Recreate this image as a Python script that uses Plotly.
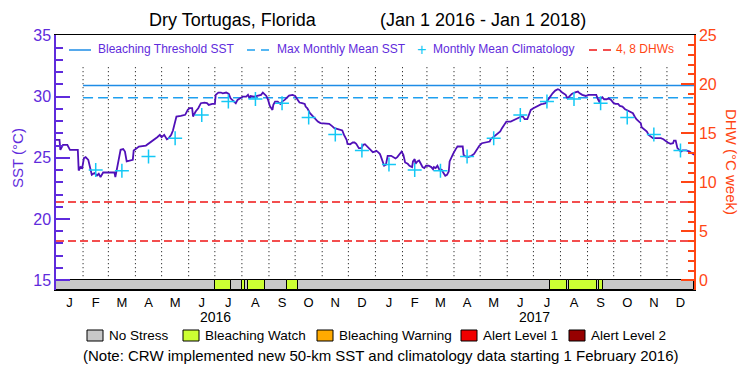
import pandas as pd
import plotly.graph_objects as go

# ---------------- data ----------------
title_left = "Dry Tortugas, Florida"
title_right = "(Jan 1 2016 - Jan 1 2018)"
start_date = "2016-01-01"
end_date = "2018-01-01"

# daily SST (day offset from 2016-01-01, degC)
sst_day = [0, 4, 5, 8, 13, 16, 25, 26, 28, 30, 32, 34, 37, 39, 41, 44, 47, 49, 51, 54, 61, 67, 68, 70, 72, 74,
           77, 79, 81, 86, 88, 89, 92, 95, 103, 106, 110, 113, 116, 119, 121, 124, 127, 129, 132, 134, 136, 138,
           143, 148, 151, 153, 156, 157, 160, 163, 166, 170, 173, 175, 179, 182, 183, 186, 189,
           191, 195, 198, 200, 204, 206, 208, 211, 214, 218, 220, 222, 223, 227, 231, 235, 237, 239, 241, 243,
           245, 248, 249, 251, 254, 257, 259, 262, 264, 267, 271, 274, 277, 279, 282, 285, 286, 288, 291, 294,
           297, 300, 303, 309, 313, 316, 319, 323, 328, 330, 333, 334, 337, 340, 342, 344, 347, 350, 352, 354,
           357, 360, 363, 365, 367, 369, 371, 372,
           374, 376, 378, 380, 384, 387, 389, 391, 394, 396, 398, 400, 403, 405, 408, 409, 411, 412, 414, 416,
           418, 420, 422, 424, 427, 430, 432, 433, 435, 437, 439, 442, 444, 446, 448, 450, 451, 454, 455, 458,
           460, 464, 466, 467, 469, 472, 476, 479, 482, 485, 488, 493, 497, 498, 502, 506, 509, 511, 514, 516,
           521, 525, 529, 533, 535, 537, 540, 542, 544, 547, 550, 554, 556,
           558, 561, 563, 566, 569, 572, 575, 577, 580, 584, 586, 588, 591, 594, 598, 600, 603, 607, 610, 615,
           619, 621, 623, 624, 626, 628, 631, 633, 636, 639, 641, 644, 646, 649, 652, 655, 658, 661, 663, 665,
           668, 670, 671, 674, 677, 679, 682, 684, 689, 693, 696, 698, 701, 704, 707, 708, 710, 712, 714, 716,
           718, 722, 726, 728, 729, 731]
sst_val = [26.47, 26.47, 25.65, 26.06, 26.06, 25.65, 25.65, 23.96, 24.24, 24.16, 24.97, 25.05, 24.83, 24.16,
           23.61, 23.75, 23.56, 23.69, 23.42, 23.80, 23.80, 23.80, 23.42, 24.16, 24.83, 25.65,
           25.71, 25.51, 24.70, 24.78, 24.83, 25.60, 25.79, 25.92, 26.00, 26.14, 26.33, 26.47, 26.68, 26.87,
           26.68, 26.87, 26.52, 26.60, 26.87, 27.23, 27.83, 28.37,
           28.42, 28.51, 28.91, 29.05, 29.05, 28.37, 28.78, 29.05, 29.46, 29.51, 29.46, 29.32, 29.40, 29.40,
           30.14, 30.33, 30.33,
           30.27, 30.33, 30.22, 29.86, 29.59, 29.46, 29.73, 29.86, 30.00, 30.00, 30.14, 29.86, 30.05, 30.00,
           30.05, 30.14, 30.33, 30.22, 30.05, 29.73,
           29.24, 28.91, 29.32, 29.59, 29.59, 29.40, 29.59, 29.73, 29.86, 30.08, 30.14, 30.05, 29.73, 29.51,
           29.46, 29.40, 29.18, 29.05, 28.64, 28.42,
           28.23, 27.96, 27.83, 27.83, 27.77, 27.61, 27.42, 27.34, 27.23, 26.87, 26.47, 26.14, 26.11, 26.25,
           26.25, 26.14, 25.79, 25.79, 26.06, 26.11,
           25.92, 25.65, 25.46, 25.51, 25.57, 25.46, 25.32, 25.16,
           24.83, 24.35, 24.43, 25.16, 25.16, 25.05, 24.94, 25.05, 25.32, 25.51, 25.24, 24.62, 24.51, 24.35,
           24.24, 24.70, 24.89, 24.51, 24.70, 24.78,
           24.51, 24.24, 24.16, 24.35, 24.35, 24.24, 24.07, 24.24, 24.16, 24.35, 24.07, 24.02, 23.75, 23.53,
           23.61, 23.88, 24.70, 25.24, 25.32, 25.71,
           25.92, 25.92, 25.92, 25.24, 25.11, 25.05, 25.16, 25.32, 25.65, 25.98, 26.19, 26.25, 26.33, 26.52,
           26.74, 27.01, 27.15, 27.42, 27.69, 27.96,
           27.96, 28.10, 28.23, 28.37, 28.37, 28.15, 28.15, 28.51, 28.91, 29.05, 29.18, 29.32, 29.38,
           29.40, 29.46, 29.67, 30.00, 30.27, 30.49, 30.60, 30.54, 30.33, 30.14, 29.86, 30.00, 30.22, 30.33,
           30.41, 30.27, 30.14, 30.05, 30.14, 30.14,
           30.14, 29.78, 29.51, 29.86, 29.95, 29.78, 29.78, 29.86, 29.73, 29.46, 29.40, 29.40, 29.24, 29.18,
           28.97, 28.86, 28.78, 28.64, 28.37, 28.15,
           27.96, 27.83, 27.50, 27.34, 27.15, 26.87, 26.74, 26.60, 26.60, 26.60, 26.52, 26.38, 26.25, 26.14,
           26.19, 26.41, 26.41, 25.79, 25.65, 25.51,
           25.60, 25.60, 25.51, 25.43, 25.32, 25.24]

# monthly mean climatology (Jan..Dec)
clim_val = [24.45, 24.0, 23.95, 25.1, 26.6, 28.5, 29.6, 29.8, 29.45, 28.3, 26.9, 25.6]
clim_first_month = "2016-02-01"
clim_last_month = "2017-12-01"

mmm_sst = 29.9
threshold_sst = 30.9
dhw_levels = [4, 8]

# Bleaching Watch periods in the stress strip
watch_start = ["2016-07-01", "2016-08-01", "2016-08-08", "2016-09-22", "2017-07-20", "2017-08-11", "2017-09-14"]
watch_end = ["2016-07-19", "2016-08-04", "2016-08-28", "2016-10-04", "2017-08-08", "2017-09-12", "2017-09-19"]

month_letters = ["J", "F", "M", "A", "M", "J", "J", "A", "S", "O", "N", "D"]
year_labels = ["2016", "2017"]

stress_labels = ["No Stress", "Bleaching Watch", "Bleaching Warning", "Alert Level 1", "Alert Level 2"]
stress_colors = ["#c8c8c8", "#ccff33", "#ffaa00", "#f00000", "#960000"]
note_text = "(Note: CRW implemented new 50-km SST and climatology data starting 1 February 2016)"

# ---------------- styles ----------------
FONT = "Liberation Sans"
PURPLE = "#5f2bdc"
LINE_PURPLE = "#5010b8"
ORANGE = "#ff4614"
BLUE = "#1e8ce6"
MMM_BLUE = "#1ea0f0"
CYAN = "#14c8f5"
RED = "#f01414"

t0 = pd.Timestamp(start_date)
t1 = pd.Timestamp(end_date)
sst_x = [t0 + pd.Timedelta(days=d) for d in sst_day]

months = pd.date_range(clim_first_month, clim_last_month, freq="MS")
clim_x = [m + pd.Timedelta(days=m.days_in_month / 2) for m in months]
clim_y = [clim_val[m.month - 1] for m in months]

all_months = pd.date_range(start_date, "2017-12-01", freq="MS")
mid_months = [m + pd.Timedelta(days=m.days_in_month / 2) for m in all_months]
tick_text = [month_letters[m.month - 1] for m in all_months]

Y_LO, Y_HI = 14.2, 35.03
Y2_LO, Y2_HI = -0.99, 25.03

fig = go.Figure()

# stress strip
fig.add_trace(go.Bar(
    x=[t0 + (t1 - t0) / 2], y=[15 - Y_LO], base=[Y_LO],
    width=[(t1 - t0).total_seconds() * 1000],
    marker=dict(color=stress_colors[0], line=dict(color="black", width=1)),
    hoverinfo="skip"))
ws = pd.to_datetime(watch_start)
we = pd.to_datetime(watch_end)
fig.add_trace(go.Bar(
    x=[a + (b - a) / 2 for a, b in zip(ws, we)],
    y=[15 - Y_LO] * len(ws), base=[Y_LO] * len(ws),
    width=[(b - a).total_seconds() * 1000 for a, b in zip(ws, we)],
    marker=dict(color=stress_colors[1], line=dict(color="black", width=1)),
    hoverinfo="skip"))

# DHW reference lines
for lv in dhw_levels:
    fig.add_trace(go.Scatter(x=[t0, t1], y=[lv, lv], yaxis="y2", mode="lines",
                             line=dict(color=RED, width=1.5, dash="8px,4px"), hoverinfo="skip"))

# threshold and MMM
fig.add_trace(go.Scatter(x=[pd.Timestamp(clim_first_month), t1], y=[threshold_sst] * 2, mode="lines",
                         line=dict(color=BLUE, width=1.5)))
fig.add_trace(go.Scatter(x=[pd.Timestamp(clim_first_month), t1], y=[mmm_sst] * 2, mode="lines",
                         line=dict(color=MMM_BLUE, width=1.5, dash="10px,5px")))

# SST
fig.add_trace(go.Scatter(x=sst_x, y=sst_val, mode="lines", line=dict(color=LINE_PURPLE, width=1.8)))

# climatology
fig.add_trace(go.Scatter(x=clim_x, y=clim_y, mode="markers",
                         marker=dict(symbol="cross-thin", size=10, line=dict(color=CYAN, width=1.5))))

# dotted month boundaries
shapes = []
for m in all_months[1:]:
    shapes.append(dict(type="line", xref="x", yref="y", x0=m, x1=m, y0=15, y1=32.6,
                       line=dict(color="black", width=1, dash="1px,3px"), layer="below"))

# positions of annotations are given in window pixels and converted to paper units
def px_x(p):
    return (p - 56) / 638.0

def px_y(p):
    return (290 - p) / 255.0

annotations = []

def ann(text, x, y, size, color, xanchor="center", **kw):
    annotations.append(dict(text=text, x=x, y=y, xref=kw.pop("xref", "paper"), yref="paper",
                            xanchor=xanchor, yanchor="middle", showarrow=False,
                            font=dict(family=FONT, size=size, color=color), **kw))

# title
ann(title_left, px_x(233), px_y(20), 18, "black")
ann(title_right, px_x(483), px_y(20), 18, "black")
# axis titles
ann("SST (°C)", px_x(17), px_y(158), 15, PURPLE, textangle=-90)
ann("DHW (°C week)", px_x(732), px_y(162), 15, ORANGE, textangle=90)
# top legend
ly = px_y(50)
shapes.append(dict(type="line", xref="paper", yref="paper", x0=px_x(69), x1=px_x(91), y0=ly, y1=ly,
                   line=dict(color=BLUE, width=1.5)))
shapes.append(dict(type="line", xref="paper", yref="paper", x0=px_x(247), x1=px_x(271), y0=ly, y1=ly,
                   line=dict(color=MMM_BLUE, width=1.5, dash="8px,6px")))
shapes.append(dict(type="line", xref="paper", yref="paper", x0=px_x(589), x1=px_x(612), y0=ly, y1=ly,
                   line=dict(color=RED, width=1.5, dash="8px,6px")))
for txt, xx, col in [("Bleaching Threshold SST", 96, PURPLE), ("Max Monthly Mean SST", 275, PURPLE),
                     ("Monthly Mean Climatology", 431, PURPLE), ("4, 8 DHWs", 614, ORANGE)]:
    ann(txt, px_x(xx), px_y(49), 12, col, xanchor="left")
ann("+", px_x(421.5), px_y(49), 16, CYAN)
# year labels
for yl in year_labels:
    ann(yl, pd.Timestamp(yl + "-07-02"), px_y(317), 14, "black", xref="x")
# stress legend
box_x = [87, 183, 317, 461, 569]
for lab, col, bx in zip(stress_labels, stress_colors, box_x):
    shapes.append(dict(type="rect", xref="paper", yref="paper", x0=px_x(bx), x1=px_x(bx + 16),
                       y0=px_y(341), y1=px_y(330), fillcolor=col, line=dict(color="black", width=1)))
    ann(lab, px_x(bx + 20), px_y(335.5), 13.5, "black", xanchor="left")
ann(note_text, px_x(380.5), px_y(355), 15, "black")

# the page body adds an 8px offset; the figure is shrunk by 8px so the plot lands where the reference has it
OFF = 8
fig.update_layout(
    width=750 - OFF, height=375 - OFF, margin=dict(l=56 - OFF, r=56, t=35 - OFF, b=85, autoexpand=False),
    paper_bgcolor="white", plot_bgcolor="white", showlegend=False, barmode="overlay", bargap=0,
    font=dict(family=FONT, color="black"),
    shapes=shapes, annotations=annotations,
    xaxis=dict(type="date", range=[t0, t1], tickvals=mid_months, ticktext=tick_text, ticks="",
               showgrid=False, zeroline=False, showline=True, linecolor="black", linewidth=1, mirror=True,
               tickfont=dict(family=FONT, size=13, color="black"), automargin=False),
    yaxis=dict(range=[Y_LO, Y_HI], tick0=15, dtick=5, ticks="inside", ticklen=14, tickwidth=1.5,
               tickcolor=PURPLE, showgrid=False, zeroline=False, showline=True, linecolor=PURPLE,
               linewidth=1.5, tickfont=dict(family=FONT, size=16, color=PURPLE), automargin=False,
               minor=dict(tick0=15, dtick=1, ticks="inside", ticklen=7, tickcolor=PURPLE, tickwidth=1.5)),
    yaxis2=dict(range=[Y2_LO, Y2_HI], overlaying="y", side="right", tick0=0, dtick=5, ticks="inside",
                ticklen=13, tickwidth=1.5, tickcolor=ORANGE, showgrid=False, zeroline=False, showline=True,
                linecolor=ORANGE, linewidth=1.5, tickfont=dict(family=FONT, size=16, color=ORANGE),
                automargin=False,
                minor=dict(tick0=0, dtick=1, ticks="inside", ticklen=6, tickcolor=ORANGE, tickwidth=1.5)),
)

fig.write_html("out.html")
